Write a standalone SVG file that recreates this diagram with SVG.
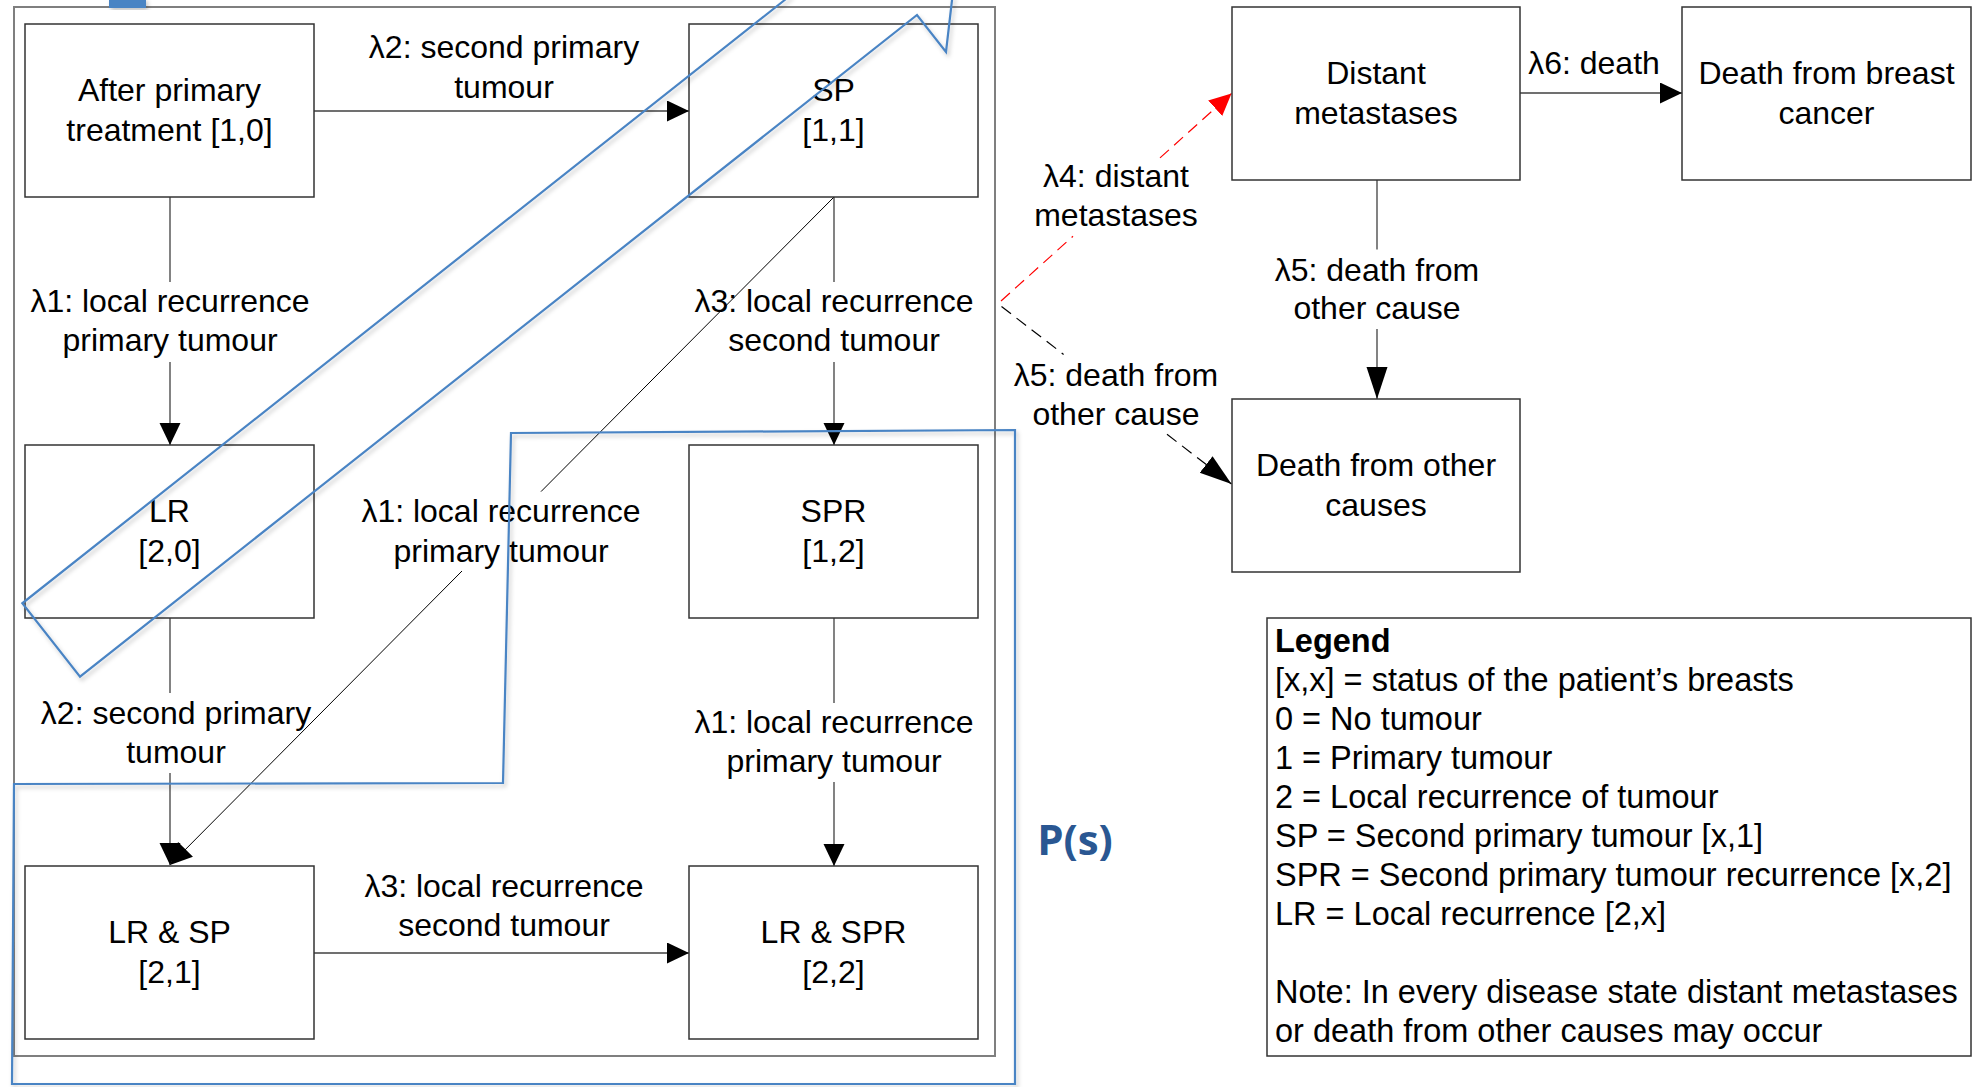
<svg xmlns="http://www.w3.org/2000/svg" width="1975" height="1087" viewBox="0 0 1975 1087">
<style>
  .box { fill: #ffffff; stroke: #333333; stroke-width: 1.5; }
  .frame { fill: none; stroke: #7f7f7f; stroke-width: 2; }
  .t { font-family: "Liberation Sans", Arial, sans-serif; font-size: 32px; fill: #000000; text-anchor: middle; }
  .lg { font-family: "Liberation Sans", Arial, sans-serif; font-size: 32.5px; fill: #000000; }
  .lgb { font-weight: bold; }
  .conn { fill: none; stroke: #404040; stroke-width: 1.3; }
  .thin { fill: none; stroke: #000000; stroke-width: 1; }
  .red { fill: none; stroke: #ff0000; stroke-width: 1.2; stroke-dasharray: 12 7; }
  .dash { fill: none; stroke: #000000; stroke-width: 1.2; stroke-dasharray: 12 7; }
  .blue { fill: none; stroke: #4a84c4; stroke-width: 2.2; filter: url(#sh); }
  .ps { font-family: "Open Sans", "Noto Sans", sans-serif; font-weight: bold; font-size: 42px; fill: #2a5792; text-anchor: middle; }
</style>
<defs>
  <filter id="sh" x="-10%" y="-10%" width="130%" height="130%">
    <feDropShadow dx="2" dy="3" stdDeviation="2" flood-color="#000000" flood-opacity="0.22"/>
  </filter>
  <marker id="ah" markerUnits="userSpaceOnUse" markerWidth="24" markerHeight="22" refX="22" refY="10.5" orient="auto">
    <path d="M0,0 L22,10.5 L0,21 z" fill="#000000"/>
  </marker>
  <marker id="ahl" markerUnits="userSpaceOnUse" markerWidth="34" markerHeight="22" refX="32" refY="10.5" orient="auto">
    <path d="M0,0 L32,10.5 L0,21 z" fill="#000000"/>
  </marker>
  <marker id="ahr" markerUnits="userSpaceOnUse" markerWidth="24" markerHeight="22" refX="22" refY="10.5" orient="auto">
    <path d="M0,0 L22,10.5 L0,21 z" fill="#ff0000"/>
  </marker>
</defs>
<rect x="0" y="0" width="1975" height="1087" fill="#ffffff"/>

<rect class="frame" x="14" y="7" width="981" height="1049"/>

<g id="connectors">
  <line class="conn" x1="314" y1="111" x2="689" y2="111" marker-end="url(#ah)"/>
  <line class="conn" x1="170" y1="197" x2="170" y2="282"/>
  <line class="conn" x1="170" y1="362" x2="170" y2="445" marker-end="url(#ah)"/>
  <line class="conn" x1="834" y1="197" x2="834" y2="282"/>
  <line class="conn" x1="834" y1="362" x2="834" y2="445" marker-end="url(#ah)"/>
  <line class="thin" x1="834" y1="197" x2="541" y2="491.6"/>
  <line class="thin" x1="462" y1="571" x2="170" y2="865" marker-end="url(#ah)"/>
  <line class="conn" x1="170" y1="618" x2="170" y2="693"/>
  <line class="conn" x1="170" y1="773" x2="170" y2="865" marker-end="url(#ah)"/>
  <line class="conn" x1="834" y1="618" x2="834" y2="703"/>
  <line class="conn" x1="834" y1="782" x2="834" y2="866" marker-end="url(#ah)"/>
  <line class="conn" x1="314" y1="953" x2="689" y2="953" marker-end="url(#ah)"/>
  <line class="conn" x1="1520" y1="93" x2="1682" y2="93" marker-end="url(#ah)"/>
  <line class="conn" x1="1377" y1="180" x2="1377" y2="249.5"/>
  <line class="conn" x1="1377" y1="329" x2="1377" y2="399" marker-end="url(#ahl)"/>
  <line class="red" x1="1001" y1="301" x2="1073" y2="236.2"/>
  <line class="red" x1="1160" y1="157.9" x2="1231.5" y2="93.5" marker-end="url(#ahr)"/>
  <line class="dash" x1="1001.5" y1="306.5" x2="1063.6" y2="354.4"/>
  <line class="dash" x1="1167" y1="434.3" x2="1231.5" y2="484" marker-end="url(#ahl)"/>
</g>

<g id="edge-labels">
  <text class="t" x="504" y="58">λ2: second primary</text>
  <text class="t" x="504" y="98">tumour</text>
  <text class="t" x="170" y="311.5">λ1: local recurrence</text>
  <text class="t" x="170" y="351">primary tumour</text>
  <text class="t" x="834" y="311.5">λ3: local recurrence</text>
  <text class="t" x="834" y="351">second tumour</text>
  <text class="t" x="501" y="522">λ1: local recurrence</text>
  <text class="t" x="501" y="561.5">primary tumour</text>
  <text class="t" x="176" y="724">λ2: second primary</text>
  <text class="t" x="176" y="763">tumour</text>
  <text class="t" x="834" y="733">λ1: local recurrence</text>
  <text class="t" x="834" y="772">primary tumour</text>
  <text class="t" x="504" y="897">λ3: local recurrence</text>
  <text class="t" x="504" y="936">second tumour</text>
  <text class="t" x="1594" y="73.5">λ6: death</text>
  <text class="t" x="1377" y="280.5">λ5: death from</text>
  <text class="t" x="1377" y="318.5">other cause</text>
  <text class="t" x="1116" y="187">λ4: distant</text>
  <text class="t" x="1116" y="226">metastases</text>
  <text class="t" x="1116" y="385.5">λ5: death from</text>
  <text class="t" x="1116" y="425">other cause</text>
</g>

<g id="node-after-primary">
  <rect class="box" x="25" y="24" width="289" height="173"/>
  <text class="t" x="169.5" y="100.5">After primary</text>
  <text class="t" x="169.5" y="140.5">treatment [1,0]</text>
</g>
<g id="node-sp">
  <rect class="box" x="689" y="24" width="289" height="173"/>
  <text class="t" x="833.5" y="100.5">SP</text>
  <text class="t" x="833.5" y="140.5">[1,1]</text>
</g>
<g id="node-lr">
  <rect class="box" x="25" y="445" width="289" height="173"/>
  <text class="t" x="169.5" y="521.5">LR</text>
  <text class="t" x="169.5" y="561.5">[2,0]</text>
</g>
<g id="node-spr">
  <rect class="box" x="689" y="445" width="289" height="173"/>
  <text class="t" x="833.5" y="521.5">SPR</text>
  <text class="t" x="833.5" y="561.5">[1,2]</text>
</g>
<g id="node-lr-sp">
  <rect class="box" x="25" y="866" width="289" height="173"/>
  <text class="t" x="169.5" y="942.5">LR &amp; SP</text>
  <text class="t" x="169.5" y="982.5">[2,1]</text>
</g>
<g id="node-lr-spr">
  <rect class="box" x="689" y="866" width="289" height="173"/>
  <text class="t" x="833.5" y="942.5">LR &amp; SPR</text>
  <text class="t" x="833.5" y="982.5">[2,2]</text>
</g>
<g id="node-distant-metastases">
  <rect class="box" x="1232" y="7" width="288" height="173"/>
  <text class="t" x="1376" y="83.5">Distant</text>
  <text class="t" x="1376" y="123.5">metastases</text>
</g>
<g id="node-death-breast-cancer">
  <rect class="box" x="1682" y="7" width="289" height="173"/>
  <text class="t" x="1826.5" y="83.5">Death from breast</text>
  <text class="t" x="1826.5" y="123.5">cancer</text>
</g>
<g id="node-death-other">
  <rect class="box" x="1232" y="399" width="288" height="173"/>
  <text class="t" x="1376" y="475.5">Death from other</text>
  <text class="t" x="1376" y="515.5">causes</text>
</g>

<g id="legend">
  <rect class="box" x="1267" y="618" width="704" height="438"/>
  <text class="lg lgb" x="1275" y="651.5">Legend</text>
  <text class="lg" x="1275" y="690.5">[x,x] = status of the patient’s breasts</text>
  <text class="lg" x="1275" y="729.5">0 = No tumour</text>
  <text class="lg" x="1275" y="768.5">1 = Primary tumour</text>
  <text class="lg" x="1275" y="807.5">2 = Local recurrence of tumour</text>
  <text class="lg" x="1275" y="846.5">SP = Second primary tumour [x,1]</text>
  <text class="lg" x="1275" y="885.5">SPR = Second primary tumour recurrence [x,2]</text>
  <text class="lg" x="1275" y="924.5">LR = Local recurrence [2,x]</text>
  <text class="lg" x="1275" y="1002.5">Note: In every disease state distant metastases</text>
  <text class="lg" x="1275" y="1041.5">or death from other causes may occur</text>
</g>

<g id="highlights">
  <path class="blue" d="M791,-5 L22.3,603.3 L80,676.7 L917,15 L946,52 L952.6,-5"/>
  <path class="blue" d="M511,433 L1015,430 L1015,1084 L12,1084 L14,784 L503,783 Z"/>
  <rect x="109" y="-2" width="37" height="10" fill="#4a84c4" filter="url(#sh)"/>
  <text class="ps" x="1075" y="855">P(s)</text>
</g>
</svg>
